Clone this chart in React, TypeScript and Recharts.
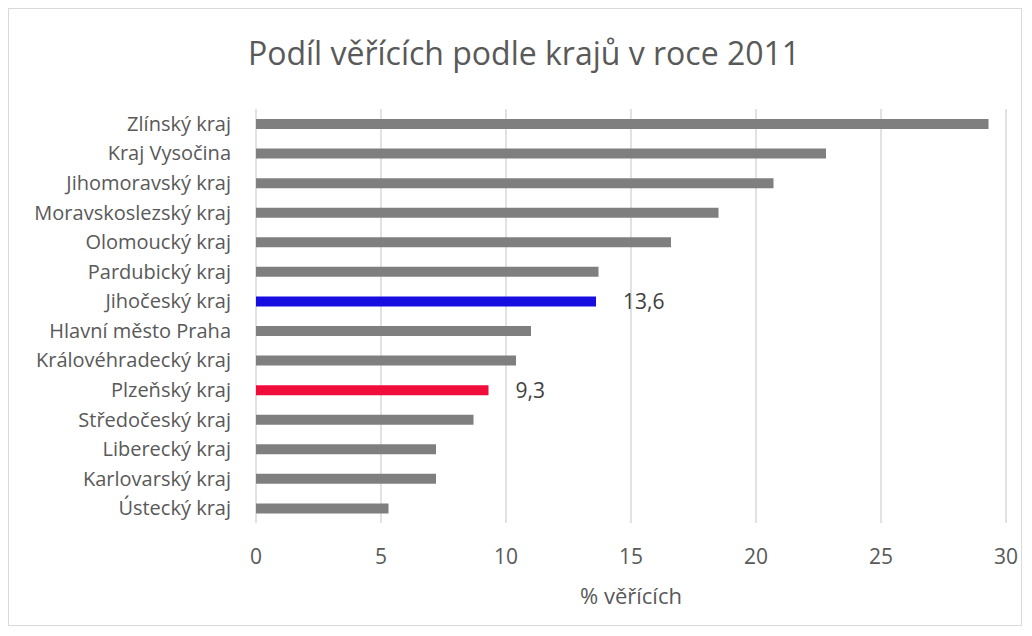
import React from 'react';
import { BarChart, Bar, XAxis, YAxis, CartesianGrid, Cell, LabelList } from 'recharts';

const regions = [
  'Zlínský kraj',
  'Kraj Vysočina',
  'Jihomoravský kraj',
  'Moravskoslezský kraj',
  'Olomoucký kraj',
  'Pardubický kraj',
  'Jihočeský kraj',
  'Hlavní město Praha',
  'Královéhradecký kraj',
  'Plzeňský kraj',
  'Středočeský kraj',
  'Liberecký kraj',
  'Karlovarský kraj',
  'Ústecký kraj',
];
const believers = [29.3, 22.8, 20.7, 18.5, 16.6, 13.7, 13.6, 11.0, 10.4, 9.3, 8.7, 7.2, 7.2, 5.3];
const xTicks = [0, 5, 10, 15, 20, 25, 30];
const labelled = ['Jihočeský kraj', 'Plzeňský kraj'];

const highlight: Record<string, string> = {
  'Jihočeský kraj': '#180de0',
  'Plzeňský kraj': '#f00d3c',
};

const FONT = '"Open Sans", "Noto Sans", sans-serif';
const TEXT = '#595959';

const data = regions.map((name, i) => ({
  name,
  value: believers[i],
  label: labelled.includes(name) ? believers[i].toFixed(1).replace('.', ',') : '',
}));

export default function App() {
  return (
    <div
      style={{
        position: 'relative',
        width: 1012,
        height: 616,
        border: '1px solid #d9d9d9',
        background: '#fff',
        fontFamily: FONT,
      }}
    >
      <div
        style={{
          position: 'absolute',
          left: 0,
          top: 27,
          width: 1030,
          textAlign: 'center',
          fontSize: 32,
          lineHeight: '34px',
          color: TEXT,
        }}
      >
        Podíl věřících podle krajů v roce 2011
      </div>
      <BarChart
        width={1012}
        height={616}
        data={data}
        layout="vertical"
        margin={{ top: 100, right: 15, bottom: 12, left: 17 }}
        barSize={10}
      >
        <CartesianGrid horizontal={false} stroke="#d9d9d9" strokeWidth={1.5} />
        <XAxis
          type="number"
          domain={[0, 30]}
          ticks={xTicks}
          axisLine={false}
          tickLine={false}
          tickSize={0}
          tickMargin={26}
          height={90}
          tick={{ fill: TEXT, fontSize: 21, fontFamily: FONT }}
          label={{
            value: '% věřících',
            position: 'insideBottom',
            offset: 9,
            fill: TEXT,
            fontSize: 22,
            fontFamily: FONT,
          }}
        />
        <YAxis
          type="category"
          dataKey="name"
          width={230}
          axisLine={false}
          tickLine={false}
          tickSize={0}
          tickMargin={25}
          interval={0}
          tick={{ fill: TEXT, fontSize: 20, fontFamily: FONT }}
        />
        <Bar dataKey="value" isAnimationActive={false}>
          {data.map((d) => (
            <Cell key={d.name} fill={highlight[d.name] ?? '#7f7f7f'} />
          ))}
          <LabelList
            dataKey="label"
            position="right"
            offset={27}
            fill="#404040"
            fontSize={21}
            fontFamily={FONT}
          />
        </Bar>
      </BarChart>
    </div>
  );
}
